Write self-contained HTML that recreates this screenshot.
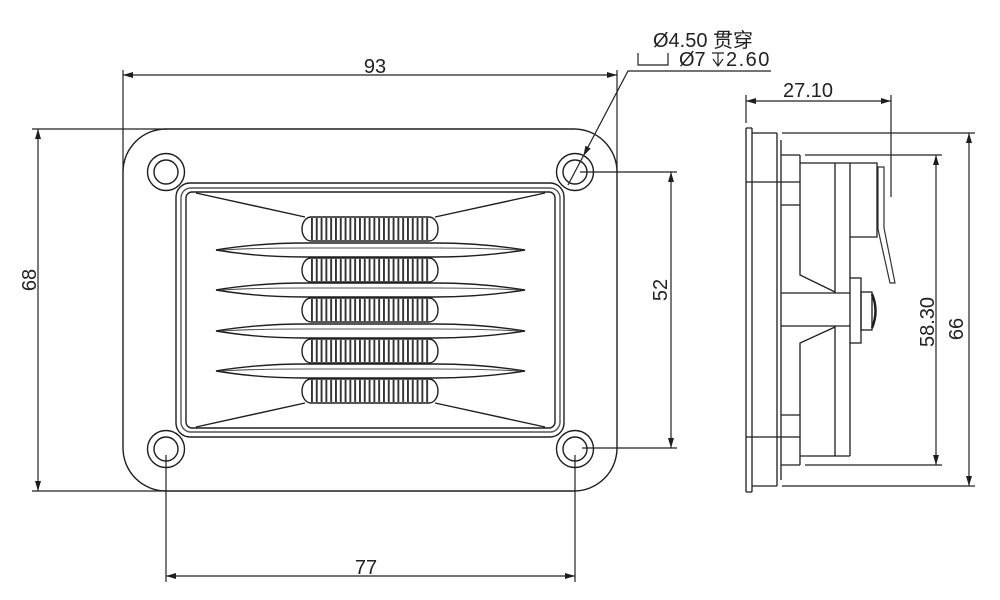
<!DOCTYPE html>
<html><head><meta charset="utf-8"><style>
html,body{margin:0;padding:0;background:#fff;}
svg{display:block;}
text{font-family:"Liberation Sans","Noto Sans CJK SC",sans-serif;font-size:20px;fill:#222;}
</style></head><body>
<svg width="1000" height="600" viewBox="0 0 1000 600" xmlns="http://www.w3.org/2000/svg">
<defs>
<pattern id="rib" x="311" y="0" width="4.8" height="600" patternUnits="userSpaceOnUse">
<rect x="0" y="0" width="1.9" height="600" fill="#333"/>
</pattern>
</defs>

<!-- ================= FRONT VIEW ================= -->
<g fill="none" stroke="#1e1e1e" stroke-width="1.4">
  <rect x="123" y="129" width="494" height="362" rx="43" ry="43"/>
  <!-- holes -->
  <circle cx="166" cy="172" r="18.5"/><circle cx="166" cy="172" r="12"/>
  <circle cx="575" cy="172" r="18.5"/><circle cx="575" cy="172" r="12"/>
  <circle cx="166" cy="449" r="18.5"/><circle cx="166" cy="449" r="12"/>
  <circle cx="575" cy="449" r="18.5"/><circle cx="575" cy="449" r="12"/>
  <!-- inner frame -->
  <rect x="176" y="183" width="388" height="254" rx="14"/>
  <rect x="181" y="188" width="379" height="244" rx="10" stroke="#555"/>
  <rect x="186" y="192" width="369" height="236" rx="6"/>
  <!-- horn diagonals -->
  <path d="M196,193 L305,217 M545,193 L435,217 M196,427 L305,403 M545,427 L435,403"/>
</g>

<!-- ribs -->
<g fill="url(#rib)" stroke="none">
  <rect x="311" y="218" width="118" height="22"/>
  <rect x="311" y="259" width="118" height="22"/>
  <rect x="311" y="299" width="118" height="22"/>
  <rect x="311" y="340" width="118" height="22"/>
  <rect x="311" y="380" width="118" height="22"/>
</g>
<g fill="none" stroke="#1e1e1e" stroke-width="1.4">
  <rect x="302" y="217" width="136" height="24" rx="9" ry="12"/>
  <rect x="302" y="258" width="136" height="24" rx="9" ry="12"/>
  <rect x="302" y="298" width="136" height="24" rx="9" ry="12"/>
  <rect x="302" y="339" width="136" height="24" rx="9" ry="12"/>
  <rect x="302" y="379" width="136" height="24" rx="9" ry="12"/>
  <!-- fins -->
  <path d="M216,250 C240,246 270,243 305,243 L435,243 C470,243 500,246 525,250 C500,254 470,257 435,257 L305,257 C270,257 240,254 216,250 Z"/>
  <path d="M216,290 C240,286 270,283 305,283 L435,283 C470,283 500,286 525,290 C500,294 470,297 435,297 L305,297 C270,297 240,294 216,290 Z"/>
  <path d="M216,331 C240,327 270,324 305,324 L435,324 C470,324 500,327 525,331 C500,335 470,338 435,338 L305,338 C270,338 240,335 216,331 Z"/>
  <path d="M216,371 C240,367 270,364 305,364 L435,364 C470,364 500,367 525,371 C500,375 470,378 435,378 L305,378 C270,378 240,375 216,371 Z"/>
</g>
<g fill="none" stroke="#555" stroke-width="1.1">
  <path d="M222,250 C255,248 285,248 305,248 L435,248 C455,248 485,248 519,250"/>
  <path d="M222,290 C255,288 285,288 305,288 L435,288 C455,288 485,288 519,290"/>
  <path d="M222,331 C255,329 285,329 305,329 L435,329 C455,329 485,329 519,331"/>
  <path d="M222,371 C255,369 285,369 305,369 L435,369 C455,369 485,369 519,371"/>
</g>

<!-- front view dimensions -->
<g fill="none" stroke="#222" stroke-width="1.2">
  <!-- 93 -->
  <path d="M123,70 V172 M617,70 V172 M123,75 H617"/>
  <!-- 68 -->
  <path d="M32,129 H167 M32,491 H166 M38,129 V491"/>
  <!-- 52 -->
  <path d="M580,172 H677 M582,448 H677 M671,172 V448"/>
  <!-- 77 -->
  <path d="M166,455 V582 M575,455 V582 M166,576 H575"/>
  <!-- leader -->
  <path d="M568,185 L628,71 H771"/>
  <!-- counterbore symbol -->
  <path d="M638,53 V65 H668 V53"/>
  <!-- depth symbol -->
  <path d="M712,53 H724 M718,53 V66 M713,59 L718,66 L723,59"/>
</g>
<g fill="#1e1e1e" stroke="none">
  <polygon points="123,75 133,72 133,78"/>
  <polygon points="617,75 607,72 607,78"/>
  <polygon points="38,129 35,139 41,139"/>
  <polygon points="38,491 35,481 41,481"/>
  <polygon points="671,172 668,182 674,182"/>
  <polygon points="671,448 668,438 674,438"/>
  <polygon points="166,576 176,573 176,579"/>
  <polygon points="575,576 565,573 565,579"/>
  <polygon points="583.4,156 590.7,148.5 585.4,145.7"/>
</g>

<text x="375" y="73" text-anchor="middle">93</text>
<text x="366" y="574" text-anchor="middle">77</text>
<text transform="translate(36,280) rotate(-90)" text-anchor="middle">68</text>
<text transform="translate(667,290) rotate(-90)" text-anchor="middle">52</text>
<text x="653" y="47">Ø4.50 贯穿</text>
<text x="679" y="66">Ø7</text>
<text x="726" y="66" letter-spacing="1.5">2.60</text>

<!-- ================= SIDE VIEW ================= -->
<g fill="none" stroke="#1e1e1e" stroke-width="1.3">
  <!-- flange -->
  <path d="M746,128 V492 M752,128 V492 M746,128 H752 M746,492 H752"/>
  <!-- part 2 -->
  <path d="M752,133 H777 M752,486 H777 M777,133 V486 M781,140 V480"/>
  <path d="M746,182 H800 M746,437 H800"/>
  <!-- part 3 -->
  <path d="M781,155 H800 M781,205 H800 M781,415 H800 M781,465 H800"/>
  <!-- body -->
  <path d="M800,155 V275 L835,292 M835,327 L800,343 V465"/>
  <path d="M800,163 H877 V237 H850 M800,456 H850"/>
  <path d="M835,163 V293 M835,326 V456"/>
  <path d="M850,163 V278 M850,343 V456"/>
  <path d="M781,293 H850 M781,326 H850"/>
  <rect x="850" y="278" width="11" height="65"/>
  <rect x="861" y="292" width="11" height="38"/>
  <path d="M872,294 Q879,311 872,328" stroke-width="2.5"/>
  <!-- tab -->
  <path d="M878,167 H884 V228 L895,283 H890 L878,229 Z" stroke="#333" stroke-width="1.2"/>
</g>

<!-- side view dimensions -->
<g fill="none" stroke="#222" stroke-width="1.2">
  <path d="M746,95 V123 M891,95 V197 M746,101 H891"/>
  <path d="M805,155 H942 M805,465 H942 M936,155 V465"/>
  <path d="M782,133 H975 M782,486 H975 M969,133 V486"/>
</g>
<g fill="#1e1e1e" stroke="none">
  <polygon points="746,101 756,98 756,104"/>
  <polygon points="891,101 881,98 881,104"/>
  <polygon points="936,155 933,165 939,165"/>
  <polygon points="936,465 933,455 939,455"/>
  <polygon points="969,133 966,143 972,143"/>
  <polygon points="969,486 966,476 972,476"/>
</g>
<text x="808" y="97" text-anchor="middle">27.10</text>
<text transform="translate(934,322) rotate(-90)" text-anchor="middle">58.30</text>
<text transform="translate(963,329) rotate(-90)" text-anchor="middle">66</text>
</svg>
</body></html>
